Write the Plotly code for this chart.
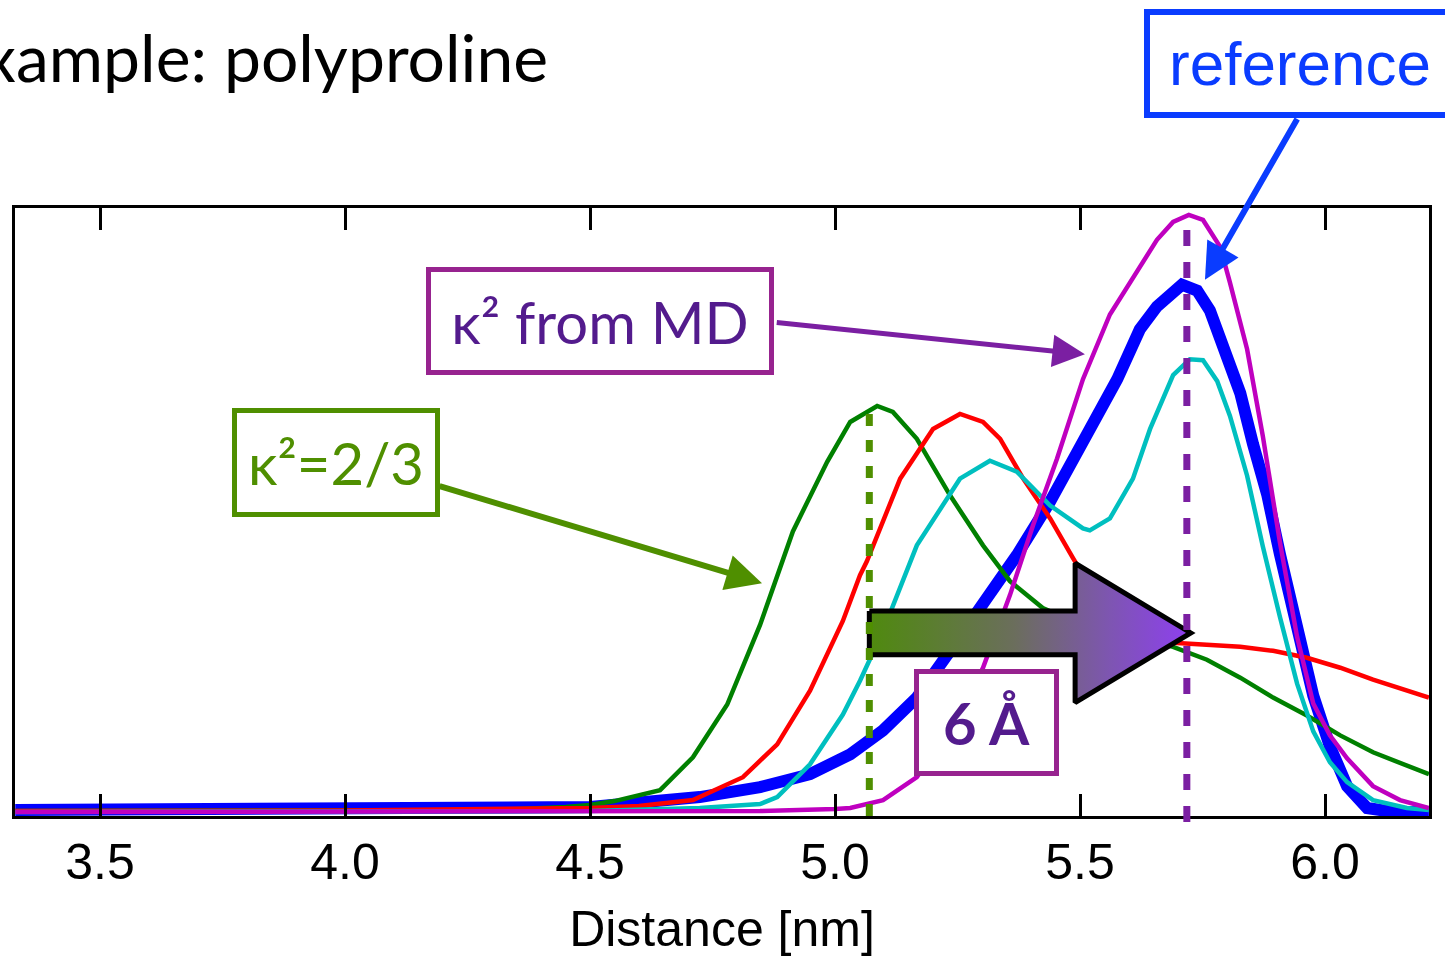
import plotly.graph_objects as go

# Distance distributions (arbitrary density units) for the polyproline example
x_k23 = [3.327, 4.0, 4.3, 4.45, 4.5, 4.55, 4.643, 4.710, 4.780, 4.847, 4.914, 4.984, 5.031, 5.086, 5.118,
         5.167, 5.235, 5.302, 5.357, 5.424, 5.480, 5.541, 5.622, 5.690, 5.759, 5.827, 5.894, 5.963,
         6.031, 6.098, 6.212]
y_k23 = [0.02, 0.03, 0.04, 0.10, 0.14, 0.22, 0.44, 1.10, 2.16, 3.76, 5.64, 7.04, 7.84, 8.16, 8.04,
         7.50, 6.36, 5.36, 4.64, 4.10, 3.86, 3.70, 3.50, 3.32, 3.06, 2.70, 2.30, 1.94,
         1.54, 1.20, 0.76]

x_red = [3.327, 4.0, 4.5, 4.6, 4.710, 4.812, 4.882, 4.949, 5.016, 5.051, 5.065, 5.133, 5.200, 5.255,
         5.302, 5.337, 5.384, 5.439, 5.486, 5.541, 5.602, 5.643, 5.690, 5.759, 5.827, 5.894, 5.963,
         6.031, 6.098, 6.212]
y_red = [0.02, 0.03, 0.08, 0.12, 0.24, 0.70, 1.36, 2.44, 3.84, 4.76, 5.04, 6.70, 7.70, 8.00,
         7.84, 7.50, 6.70, 5.90, 5.10, 4.20, 3.74, 3.54, 3.40, 3.36, 3.32, 3.24, 3.10,
         2.90, 2.66, 2.30]

x_cyan = [3.327, 4.5, 4.724, 4.847, 4.882, 4.949, 5.016, 5.051, 5.098, 5.167, 5.255, 5.316, 5.371,
          5.439, 5.506, 5.520, 5.561, 5.608, 5.643, 5.690, 5.724, 5.751, 5.780, 5.806, 5.841, 5.873,
          5.908, 5.943, 5.976, 6.010, 6.045, 6.098, 6.167, 6.212]
y_cyan = [0.0, 0.02, 0.08, 0.16, 0.30, 0.96, 1.96, 2.64, 3.64, 5.36, 6.70, 7.06, 6.84,
          6.16, 5.70, 5.66, 5.90, 6.70, 7.70, 8.78, 9.10, 9.08, 8.66, 7.96, 6.76, 5.34,
          3.92, 2.58, 1.62, 1.00, 0.60, 0.24, 0.08, 0.04]

x_ref = [3.327, 4.0, 4.5, 4.724, 4.847, 4.949, 5.031, 5.098, 5.167, 5.235, 5.302, 5.371, 5.439,
         5.506, 5.576, 5.622, 5.657, 5.708, 5.739, 5.765, 5.792, 5.827, 5.853, 5.882, 5.908,
         5.943, 5.976, 6.010, 6.045, 6.086, 6.139, 6.212]
y_ref = [0.04, 0.05, 0.10, 0.30, 0.50, 0.76, 1.16, 1.64, 2.30, 3.24, 4.16, 5.16, 6.24,
         7.50, 8.70, 9.70, 10.16, 10.60, 10.48, 10.08, 9.30, 8.42, 7.40, 6.38, 5.18,
         3.76, 2.34, 1.32, 0.52, 0.08, 0.0, 0.0]

x_md = [3.327, 4.5, 4.847, 5.0, 5.031, 5.098, 5.167, 5.235, 5.302, 5.357, 5.404, 5.453, 5.506,
        5.561, 5.622, 5.657, 5.690, 5.722, 5.751, 5.786, 5.806, 5.841, 5.873, 5.908, 5.943,
        5.976, 6.010, 6.045, 6.098, 6.153, 6.212]
y_md = [0.0, 0.0, 0.02, 0.06, 0.08, 0.24, 0.70, 1.64, 2.90, 4.36, 5.76, 7.10, 8.70,
        10.0, 10.96, 11.50, 11.86, 12.00, 11.90, 11.36, 10.64, 9.30, 7.56, 5.42, 3.52,
        2.18, 1.54, 1.08, 0.52, 0.24, 0.08]

# Peak positions marked with dashed lines (nm) and their heights
peak_k23 = 5.07
peak_md = 5.718
peak_k23_top = 8.0
peak_md_top = 11.7

tick_vals = [3.5, 4.0, 4.5, 5.0, 5.5, 6.0]
tick_text = ["3.5", "4.0", "4.5", "5.0", "5.5", "6.0"]

X_RANGE = [3.3265, 6.2122]
Y_RANGE = [-0.08, 12.14]

GREEN_ANN = "#4f8f00"
PURPLE_ANN = "#7b1fa2"
PURPLE_BOX = "#97238f"
PURPLE_TXT = "#531b8d"
BLUE_ANN = "#0a3cff"

fig = go.Figure()

# Big shift arrow (gradient fill, black outline) from kappa^2=2/3 peak to MD peak
shaft_half = 0.44
head_half = 1.4
arrow_y = 3.6
head_start = 5.49
ax_pts = [peak_k23, head_start, head_start, peak_md + 0.008, head_start, head_start, peak_k23, peak_k23]
ay_pts = [arrow_y + shaft_half, arrow_y + shaft_half, arrow_y + head_half, arrow_y,
          arrow_y - head_half, arrow_y - shaft_half, arrow_y - shaft_half, arrow_y + shaft_half]

series = [
    (x_ref, y_ref, "#0000ff", 12),
    (x_k23, y_k23, "#008000", 4.5),
    (x_red, y_red, "#ff0000", 4.5),
    (x_cyan, y_cyan, "#00bfbf", 4.5),
    (x_md, y_md, "#bf00bf", 4.5),
]
for xs, ys, col, w in series:
    fig.add_trace(go.Scatter(x=xs, y=ys, mode="lines", line=dict(color=col, width=w),
                             hoverinfo="skip", showlegend=False))

fig.add_trace(go.Scatter(
    x=ax_pts, y=ay_pts, mode="lines", fill="toself",
    line=dict(color="black", width=5),
    fillgradient=dict(type="horizontal",
                      colorscale=[[0, "#4f8a0e"], [0.45, "#6b6e5c"], [0.75, "#7e55b2"], [1, "#8e3ff0"]]),
    hoverinfo="skip", showlegend=False))


def to_paper(v):
    return (v - Y_RANGE[0]) / (Y_RANGE[1] - Y_RANGE[0])


shapes = [
    dict(type="line", xref="x", yref="paper", x0=peak_k23, x1=peak_k23,
         y0=to_paper(peak_k23_top), y1=to_paper(-0.3), layer="above",
         line=dict(color=GREEN_ANN, width=7, dash="12px,14px")),
    dict(type="line", xref="x", yref="paper", x0=peak_md, x1=peak_md,
         y0=to_paper(peak_md_top), y1=to_paper(-0.46), layer="above",
         line=dict(color=PURPLE_ANN, width=7, dash="16px,16px")),
]

annotations = [
    # Title
    dict(text="Example: polyproline", xref="paper", yref="paper",
         x=(550 - 15) / 1414, y=(819 - 56) / 611, xanchor="right", yanchor="middle",
         showarrow=False, font=dict(family="Lato, Noto Sans", size=66, color="black")),
    # Labelled boxes
    dict(text="reference", xref="paper", yref="paper", x=(1300 - 15) / 1414, y=(819 - 62.5) / 611,
         xanchor="center", yanchor="middle", showarrow=False,
         font=dict(family="Liberation Sans, Arial", size=62, color=BLUE_ANN),
         bordercolor=BLUE_ANN, borderwidth=6, borderpad=0, width=300, height=97, bgcolor="white"),
    dict(text="κ² from MD", xref="x", yref="y", x=4.520, y=9.86, showarrow=False,
         font=dict(family="Lato, Noto Sans", size=58, color=PURPLE_TXT),
         bordercolor=PURPLE_BOX, borderwidth=5, borderpad=0, width=338, height=98, bgcolor="white"),
    dict(text="κ²=2/3", xref="x", yref="y", x=3.981, y=7.02, showarrow=False,
         font=dict(family="Lato, Noto Sans", size=58, color=GREEN_ANN),
         bordercolor=GREEN_ANN, borderwidth=5, borderpad=0, width=198, height=99, bgcolor="white"),
    dict(text="<b>6 Å</b>", xref="x", yref="y", x=5.310, y=1.80, showarrow=False,
         font=dict(family="Lato, Noto Sans", size=58, color=PURPLE_TXT),
         bordercolor=PURPLE_BOX, borderwidth=5, borderpad=0, width=135, height=97, bgcolor="white"),
    # Pointer arrows
    dict(text="", xref="x", yref="y", axref="x", ayref="y", x=5.755, y=10.7, ax=5.945, ay=13.96,
         showarrow=True, arrowhead=2, arrowsize=1.2, arrowwidth=6, arrowcolor=BLUE_ANN),
    dict(text="", xref="x", yref="y", axref="x", ayref="y", x=5.510, y=9.2, ax=4.878, ay=9.84,
         showarrow=True, arrowhead=2, arrowsize=1.3, arrowwidth=5, arrowcolor=PURPLE_ANN),
    dict(text="", xref="x", yref="y", axref="x", ayref="y", x=4.851, y=4.6, ax=4.190, ay=6.56,
         showarrow=True, arrowhead=2, arrowsize=1.2, arrowwidth=6, arrowcolor=GREEN_ANN),
]

fig.update_layout(
    width=1445, height=959,
    margin=dict(l=15, r=16, t=208, b=140),
    paper_bgcolor="white", plot_bgcolor="white",
    shapes=shapes, annotations=annotations,
    showlegend=False,
    xaxis=dict(range=X_RANGE, tickvals=tick_vals, ticktext=tick_text,
               ticks="inside", ticklen=22, tickwidth=2.5, tickcolor="black",
               showline=True, linecolor="black", linewidth=3, mirror="ticks",
               showgrid=False, zeroline=False,
               tickfont=dict(family="Liberation Sans, Arial", size=50, color="black"),
               title=dict(text="Distance [nm]", standoff=22,
                          font=dict(family="Liberation Sans, Arial", size=50, color="black"))),
    yaxis=dict(range=Y_RANGE, showticklabels=False, ticks="",
               showline=True, linecolor="black", linewidth=3, mirror=True,
               showgrid=False, zeroline=False),
)

fig.write_html("out.html")
